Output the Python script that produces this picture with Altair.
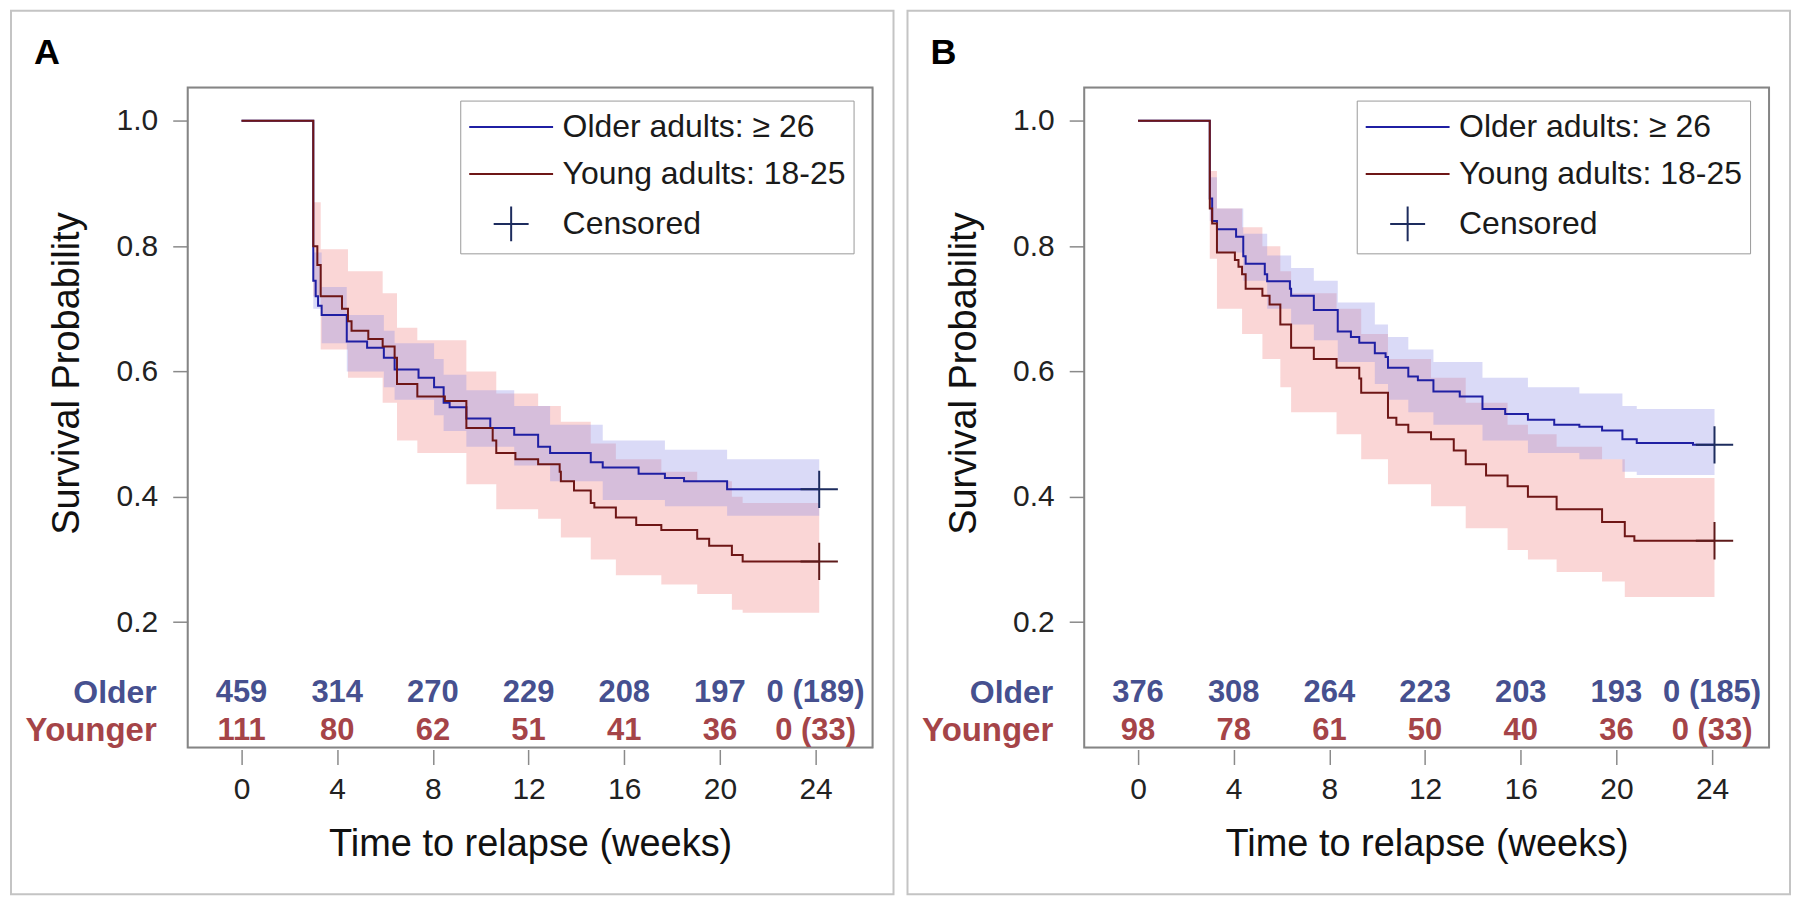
import altair as alt
import pandas as pd

# ---------------- data ----------------
# Panel A
a_old_t = [0, 3.0, 3.1, 3.2, 3.35, 4.4, 5.25, 5.95, 6.4, 7.4, 8.05, 8.45, 8.7, 9.4, 10.4, 11.4, 12.4, 12.9, 14.6, 15.1, 16.6, 17.7, 18.5, 20.3, 24.15]
a_old_s = [1.0, 0.745, 0.72, 0.705, 0.69, 0.648, 0.638, 0.622, 0.603, 0.59, 0.575, 0.55, 0.543, 0.525, 0.51, 0.499, 0.48, 0.47, 0.455, 0.447, 0.437, 0.43, 0.425, 0.412, 0.412]
a_yng_t = [0, 3.0, 3.17, 3.31, 4.2, 4.45, 4.6, 5.3, 5.9, 6.4, 6.5, 7.35, 8.5, 9.4, 10.5, 10.65, 11.45, 12.4, 13.3, 13.35, 13.9, 14.6, 14.75, 15.65, 16.5, 17.55, 19.05, 19.55, 20.5, 20.95, 24.15]
a_yng_s = [1.0, 0.80, 0.77, 0.72, 0.70, 0.68, 0.665, 0.652, 0.64, 0.622, 0.58, 0.56, 0.553, 0.51, 0.49, 0.47, 0.46, 0.452, 0.44, 0.425, 0.41, 0.39, 0.383, 0.367, 0.355, 0.347, 0.333, 0.322, 0.307, 0.297, 0.297]

a_old_band_t = [3.0, 3.35, 4.4, 5.95, 6.4, 8.05, 8.45, 9.4, 11.4, 12.9, 15.1, 17.7, 20.3, 24.15]
a_old_band_lo = [0.70, 0.645, 0.60, 0.575, 0.555, 0.53, 0.505, 0.48, 0.45, 0.425, 0.395, 0.385, 0.37, 0.37]
a_old_band_hi = [0.79, 0.735, 0.69, 0.665, 0.645, 0.62, 0.595, 0.57, 0.545, 0.515, 0.49, 0.475, 0.46, 0.46]
a_yng_band_t = [3.0, 3.31, 4.45, 5.9, 6.5, 7.35, 9.4, 10.65, 12.4, 13.35, 14.6, 15.65, 17.55, 19.05, 20.5, 20.95, 24.15]
a_yng_band_lo = [0.72, 0.635, 0.59, 0.55, 0.49, 0.47, 0.42, 0.38, 0.365, 0.335, 0.30, 0.275, 0.26, 0.245, 0.22, 0.215, 0.215]
a_yng_band_hi = [0.87, 0.795, 0.76, 0.725, 0.67, 0.65, 0.60, 0.565, 0.545, 0.52, 0.485, 0.46, 0.44, 0.425, 0.40, 0.39, 0.39]

# Panel B
b_old_t = [0, 3.0, 3.1, 3.3, 4.1, 4.4, 4.5, 5.3, 5.4, 6.35, 6.4, 7.35, 8.35, 8.9, 9.25, 9.9, 10.35, 10.45, 11.3, 11.7, 12.35, 13.45, 14.4, 15.35, 16.3, 17.4, 18.45, 19.4, 20.25, 20.85, 23.2, 24.1]
b_old_s = [1.0, 0.876, 0.84, 0.827, 0.815, 0.784, 0.772, 0.755, 0.744, 0.732, 0.721, 0.698, 0.664, 0.655, 0.646, 0.629, 0.623, 0.606, 0.592, 0.586, 0.568, 0.56, 0.54, 0.532, 0.523, 0.515, 0.512, 0.506, 0.492, 0.486, 0.483, 0.483]
b_yng_t = [0, 3.0, 3.1, 3.3, 4.05, 4.2, 4.35, 4.5, 5.2, 5.5, 5.95, 6.4, 7.35, 8.3, 9.25, 9.33, 10.45, 10.8, 11.3, 12.25, 13.2, 13.7, 14.55, 15.45, 16.3, 17.5, 19.4, 20.35, 20.75, 24.1]
b_yng_s = [1.0, 0.86, 0.836, 0.79, 0.778, 0.767, 0.755, 0.732, 0.721, 0.707, 0.675, 0.638, 0.62, 0.606, 0.589, 0.566, 0.526, 0.515, 0.503, 0.492, 0.474, 0.452, 0.434, 0.417, 0.40, 0.38, 0.36, 0.337, 0.33, 0.33]

b_old_band_t = [3.0, 3.3, 4.4, 5.4, 6.4, 7.35, 8.35, 9.9, 10.45, 11.3, 12.35, 14.4, 16.3, 18.45, 20.25, 20.85, 24.1]
b_old_band_lo = [0.84, 0.79, 0.745, 0.70, 0.675, 0.65, 0.615, 0.58, 0.555, 0.535, 0.515, 0.49, 0.47, 0.46, 0.44, 0.435, 0.435]
b_old_band_hi = [0.91, 0.86, 0.82, 0.785, 0.765, 0.745, 0.71, 0.675, 0.655, 0.635, 0.615, 0.59, 0.575, 0.565, 0.545, 0.54, 0.54]
b_yng_band_t = [3.0, 3.3, 4.35, 5.2, 5.95, 6.4, 8.3, 9.33, 10.45, 12.25, 13.7, 15.45, 16.3, 17.5, 19.4, 20.35, 24.1]
b_yng_band_lo = [0.78, 0.70, 0.66, 0.62, 0.575, 0.535, 0.50, 0.46, 0.42, 0.385, 0.35, 0.315, 0.30, 0.28, 0.265, 0.24, 0.24]
b_yng_band_hi = [0.92, 0.86, 0.83, 0.80, 0.76, 0.725, 0.70, 0.66, 0.62, 0.59, 0.55, 0.515, 0.50, 0.48, 0.46, 0.43, 0.43]

# Number at risk table
risk_times = [0, 4, 8, 12, 16, 20, 24]
a_old_risk = ["459", "314", "270", "229", "208", "197", "0 (189)"]
a_yng_risk = ["111", "80", "62", "51", "41", "36", "0 (33)"]
b_old_risk = ["376", "308", "264", "223", "203", "193", "0 (185)"]
b_yng_risk = ["98", "78", "61", "50", "40", "36", "0 (33)"]
row_labels = ["Older", "Younger"]

legend_labels = ["Older adults: \u2265 26", "Young adults: 18-25", "Censored"]
x_ticks = [0, 4, 8, 12, 16, 20, 24]
y_ticks = [0.2, 0.4, 0.6, 0.8, 1.0]

# ---------------- styling ----------------
FONT = "Liberation Sans"
OLD_LINE = "#1f1fa3"
YNG_LINE = "#6e1616"
OLD_CROSS = "#1d2c5e"
YNG_CROSS = "#5e1a1a"
OLD_BAND = "#8f8fe6"
YNG_BAND = "#f08a8a"
OLD_TXT = "#46508f"
YNG_TXT = "#a54448"

W, H = 686, 661
X_DOMAIN = [-2.25, 26.38]
Y_DOMAIN = [0.0, 1.053]
TOP = -77       # outer panel border, relative to the plot area
BOTTOM = 808
LEFT = -177
RIGHT = 707
ROW1_Y = 606
ROW2_Y = 644

x_axis = alt.Axis(values=x_ticks, domain=False, grid=False, offset=2, tickSize=15,
                  tickColor="#8a8a8a", tickWidth=1.5, labelFontSize=30, labelColor="#222222",
                  labelPadding=10, labelFont=FONT, titleFont=FONT, titleFontSize=38,
                  titleFontWeight="normal", titleColor="#111111", titleBaseline="alphabetic",
                  titleY=106)
y_axis = alt.Axis(values=y_ticks, format=".1f", domain=False, grid=False, tickSize=15,
                  tickColor="#8a8a8a", tickWidth=1.5, labelFontSize=30, labelColor="#222222",
                  labelPadding=15, labelFont=FONT, titleFont=FONT, titleFontSize=38,
                  titleFontWeight="normal", titleColor="#111111", titleAngle=270,
                  titleBaseline="alphabetic", titleAlign="center", titleX=-109, titleY=286)

def X(field="t"):
    return alt.X(f"{field}:Q", scale=alt.Scale(domain=X_DOMAIN, nice=False, zero=False),
                 axis=x_axis, title="Time to relapse (weeks)")

def Y(field="s"):
    return alt.Y(f"{field}:Q", scale=alt.Scale(domain=Y_DOMAIN, nice=False, zero=False),
                 axis=y_axis, title="Survival Probability")

CROSS = "M-1,0H1M0,-1V1"
LEG_LINE = "M-2.4,0H2.4"


def panel(letter, old_t, old_s, yng_t, yng_s,
          obt, obl, obh, ybt, ybl, ybh, old_risk, yng_risk):
    old_df = pd.DataFrame({"t": old_t, "s": old_s})
    yng_df = pd.DataFrame({"t": yng_t, "s": yng_s})
    ob_df = pd.DataFrame({"t": obt, "lo": obl, "hi": obh})
    yb_df = pd.DataFrame({"t": ybt, "lo": ybl, "hi": ybh})

    border = alt.Chart(pd.DataFrame({"k": [0]})).mark_rect(
        fillOpacity=0, stroke="#c4c4c4", strokeWidth=2
    ).encode(x=alt.value(LEFT), x2=alt.value(RIGHT), y=alt.value(TOP), y2=alt.value(BOTTOM))

    frame = alt.Chart(pd.DataFrame({"k": [0]})).mark_rect(
        fillOpacity=0, stroke="#858585", strokeWidth=2
    ).encode(x=alt.value(0), x2=alt.value(W), y=alt.value(0), y2=alt.value(H))

    yng_band = alt.Chart(yb_df).mark_area(interpolate="step-after", color=YNG_BAND, opacity=0.35).encode(
        x=X(), y=Y("lo"), y2="hi:Q")
    old_band = alt.Chart(ob_df).mark_area(interpolate="step-after", color=OLD_BAND, opacity=0.33).encode(
        x=X(), y=Y("lo"), y2="hi:Q")

    old_line = alt.Chart(old_df).mark_line(interpolate="step-after", color=OLD_LINE, strokeWidth=2).encode(
        x=X(), y=Y())
    yng_line = alt.Chart(yng_df).mark_line(interpolate="step-after", color=YNG_LINE, strokeWidth=2).encode(
        x=X(), y=Y())

    old_cens = alt.Chart(pd.DataFrame({"t": [old_t[-1]], "s": [old_s[-1]]})).mark_point(
        shape=CROSS, size=1400, filled=False, strokeWidth=2, color=OLD_CROSS, opacity=1
    ).encode(x=X(), y=Y())
    yng_cens = alt.Chart(pd.DataFrame({"t": [yng_t[-1]], "s": [yng_s[-1]]})).mark_point(
        shape=CROSS, size=1400, filled=False, strokeWidth=2, color=YNG_CROSS, opacity=1
    ).encode(x=X(), y=Y())

    old_risk_txt = alt.Chart(pd.DataFrame({"t": risk_times, "n": old_risk})).mark_text(
        font=FONT, fontSize=31, fontWeight="bold", color=OLD_TXT, baseline="middle", align="center"
    ).encode(x=X(), y=alt.value(ROW1_Y), text="n:N")
    yng_risk_txt = alt.Chart(pd.DataFrame({"t": risk_times, "n": yng_risk})).mark_text(
        font=FONT, fontSize=31, fontWeight="bold", color=YNG_TXT, baseline="middle", align="center"
    ).encode(x=X(), y=alt.value(ROW2_Y), text="n:N")

    old_row = alt.Chart(pd.DataFrame({"lab": [row_labels[0]]})).mark_text(
        font=FONT, fontSize=32, fontWeight="bold", color=OLD_TXT, baseline="middle", align="right"
    ).encode(x=alt.value(-31), y=alt.value(ROW1_Y), text="lab:N")
    yng_row = alt.Chart(pd.DataFrame({"lab": [row_labels[1]]})).mark_text(
        font=FONT, fontSize=33, fontWeight="bold", color=YNG_TXT, baseline="middle", align="right"
    ).encode(x=alt.value(-31), y=alt.value(ROW2_Y), text="lab:N")

    letter_txt = alt.Chart(pd.DataFrame({"lab": [letter]})).mark_text(
        font=FONT, fontSize=36, fontWeight="bold", color="#000000", baseline="middle", align="left"
    ).encode(x=alt.value(-154), y=alt.value(-35), text="lab:N")

    leg = alt.Legend(orient="none", legendX=273, legendY=13, title=None,
                     labelFont=FONT, labelFontSize=32, labelColor="#1a1a1a", labelLimit=600,
                     labelOffset=33, symbolOffset=24.5, padding=8, rowPadding=12,
                     symbolSize=1225, strokeColor="#9a9a9a", fillColor="#ffffff",
                     symbolStrokeWidth=2, symbolOpacity=1)
    legend_layer = alt.Chart(pd.DataFrame({"key": legend_labels})).mark_point(
        opacity=0, filled=False, size=1225
    ).encode(
        color=alt.Color("key:N", scale=alt.Scale(domain=legend_labels,
                                                 range=[OLD_LINE, YNG_LINE, OLD_CROSS]),
                        legend=leg, title=None),
        shape=alt.Shape("key:N", scale=alt.Scale(domain=legend_labels,
                                                 range=[LEG_LINE, LEG_LINE, CROSS]),
                        legend=leg, title=None),
    )

    return alt.layer(border, yng_band, old_band, frame, old_line, yng_line, old_cens, yng_cens,
                     old_risk_txt, yng_risk_txt, old_row, yng_row, letter_txt, legend_layer
                     ).properties(width=W, height=H)


pA = panel("A", a_old_t, a_old_s, a_yng_t, a_yng_s,
           a_old_band_t, a_old_band_lo, a_old_band_hi,
           a_yng_band_t, a_yng_band_lo, a_yng_band_hi, a_old_risk, a_yng_risk)
pB = panel("B", b_old_t, b_old_s, b_yng_t, b_yng_s,
           b_old_band_t, b_old_band_lo, b_old_band_hi,
           b_yng_band_t, b_yng_band_lo, b_yng_band_hi, b_old_risk, b_yng_risk)

chart = alt.hconcat(pA, pB, spacing=10).resolve_scale(
    color="independent", shape="independent"
).resolve_legend(color="independent", shape="independent").properties(
    padding={"left": 1, "top": 0, "right": 0, "bottom": 0}
).configure_view(stroke="#858585", strokeWidth=2).configure(font=FONT)

chart.save("out.html", embed_options={"renderer": "svg", "actions": False})
